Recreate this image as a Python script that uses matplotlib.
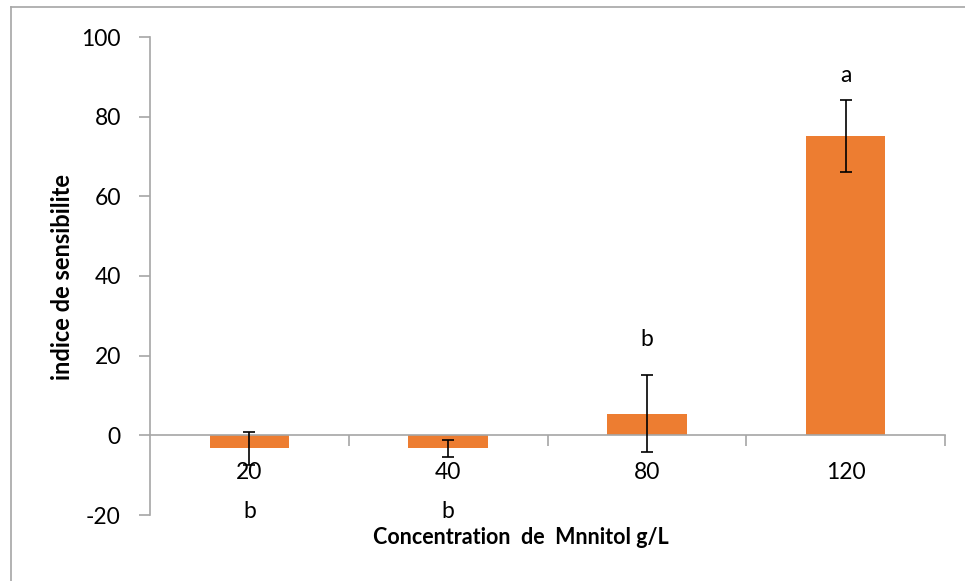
import matplotlib
matplotlib.use("Agg")
import matplotlib.pyplot as plt
from matplotlib.lines import Line2D

plt.rcParams['font.family'] = ['Lato', 'DejaVu Sans']
plt.rcParams['axes.unicode_minus'] = False

# Data
concentrations = ["20", "40", "80", "120"]
sensitivity = [-3.3, -3.3, 5.4, 75.1]
errors = [4.2, 2.2, 9.7, 9.0]
letters = ["b", "b", "b", "a"]
letter_y = [-19.0, -19.0, 24.1, 90.4]
y_ticks = [-20, 0, 20, 40, 60, 80, 100]

bar_color = "#ED7D31"
axis_gray = "#A6A6A6"

fig = plt.figure(figsize=(9.65, 5.81), dpi=100)
ax = fig.add_axes([150 / 965, 66 / 581, 795 / 965, 478 / 581])

x = list(range(len(concentrations)))
ax.bar(x, sensitivity, width=0.4, color=bar_color, zorder=2)
ax.errorbar(x, sensitivity, yerr=errors, fmt="none", ecolor="black",
            elinewidth=1.2, capsize=4.5, capthick=1.2, zorder=3)

for xi, lab, ly in zip(x, letters, letter_y):
    ax.text(xi, ly, lab, ha="center", va="center", fontsize=16.5, color="black")

ax.set_xlim(-0.5, len(concentrations) - 0.5)
ax.set_ylim(-20, 100)

# Spines
for side in ("top", "right"):
    ax.spines[side].set_visible(False)
ax.spines["left"].set_color(axis_gray)
ax.spines["bottom"].set_color(axis_gray)
ax.spines["bottom"].set_position(("data", 0))
ax.spines["left"].set_linewidth(1.2)
ax.spines["bottom"].set_linewidth(1.2)

# y axis ticks
ax.set_yticks(y_ticks)
ax.tick_params(axis="y", direction="out", length=8, width=1.2, color=axis_gray,
               pad=13, labelsize=16.5, labelcolor="black")

# x axis: tick marks at category boundaries, labels at category centres
ax.set_xticks([i + 0.5 for i in x])
ax.set_xticklabels([])
ax.set_xticks(x, minor=True)
ax.set_xticklabels(concentrations, minor=True)
ax.tick_params(axis="x", which="major", direction="out", length=8, width=1.2,
               color=axis_gray)
ax.tick_params(axis="x", which="minor", length=0, pad=19, labelsize=16.5,
               labelcolor="black")

fig.text(62 / 965, 1 - 277 / 581, "indice de sensibilite", rotation=90,
         ha="center", va="center", fontsize=17, fontweight="bold")
fig.text(521 / 965, 1 - 538 / 581, "Concentration  de  Mnnitol g/L",
         ha="center", va="center", fontsize=15.5, fontweight="bold")

# Chart frame
fig.add_artist(Line2D([11 / 965, 11 / 965], [0, 1 - 7 / 581],
                      transform=fig.transFigure, color=axis_gray, lw=1.2))
fig.add_artist(Line2D([11 / 965, 1], [1 - 7 / 581, 1 - 7 / 581],
                      transform=fig.transFigure, color=axis_gray, lw=1.2))

fig.savefig("out.png", dpi=100, facecolor="white")
